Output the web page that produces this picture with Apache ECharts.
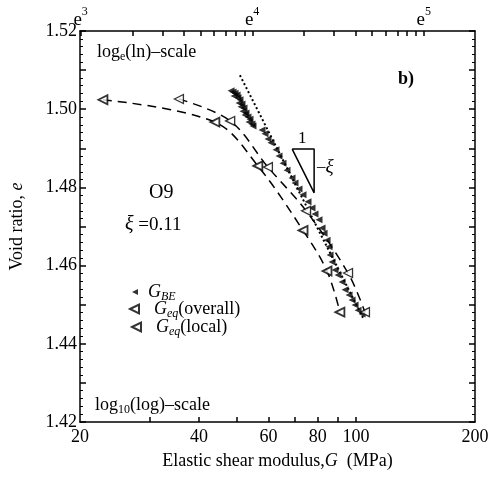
<!DOCTYPE html>
<html><head><meta charset="utf-8">
<script src="https://cdn.jsdelivr.net/npm/echarts@6/dist/echarts.min.js"></script>
<style>html,body{margin:0;padding:0;background:#fff}#c{width:497px;height:480px}</style>
</head><body><div id="c"></div>
<script>
// ---- data (G in MPa, void ratio e) ----
const gBE = [48.24,48.81,49.38,49.96,49.10,50.24,50.83,50.53,51.42,51.12,52.03,51.72,52.64,52.33,53.25,53.88,53.56,54.51,54.83,
  57.78,58.80,59.83,60.89,62.69,63.80,65.30,66.84,68.82,70.03,71.69,73.38,75.55,77.33,78.70,80.55,82.01,82.97,84.44,85.43,85.92,
  86.93,88.46,90.03,92.15,93.78,95.99,97.68,99.41,101.16,103.55];
const eBE = [1.5047,1.5044,1.5041,1.5036,1.5034,1.5029,1.5024,1.5016,1.5013,1.5006,1.5003,1.4995,1.4990,1.4985,1.4980,1.4974,1.4967,1.4962,1.4957,
  1.4947,1.4937,1.4924,1.4914,1.4896,1.4880,1.4862,1.4844,1.4824,1.4811,1.4796,1.4781,1.4763,1.4747,1.4732,1.4717,1.4696,1.4683,1.4665,1.4648,1.4627,
  1.4609,1.4589,1.4576,1.4558,1.4538,1.4525,1.4512,1.4499,1.4486,1.4476];
const gOverall = [22.86, 43.9, 56.4, 73.4, 84.4, 91.0];
const eOverall = [1.5024, 1.4967, 1.4855, 1.4690, 1.4586, 1.4481];
const gLocal = [35.6, 48.0, 59.8, 74.7, 95.4, 105.3];
const eLocal = [1.5026, 1.4970, 1.4852, 1.4740, 1.4581, 1.4481];
const gFit = [50.8, 104.2];
const eFit = [1.5087, 1.4466];
const gSlope = [68.9, 78.3, 78.3, 68.9];
const eSlope = [1.4898, 1.4898, 1.4786, 1.4898];
// ---- axis ticks ----
const xTickValues = [30, 40, 50, 60, 70, 80, 90, 100];
const xLabelValues = [20, 40, 60, 80, 100, 200];
const topExponents = [3, 4, 5];
const topMinorSteps = [2, 3, 4, 5, 6, 7, 8, 9];
const xMin = 20, xMax = 200;
const yMin = 1.42, yMax = 1.52, yStep = 0.01;

const pairs = (a, b) => a.map((v, i) => [v, b[i]]);
const topLabelValues = topExponents.map(n => Math.exp(n));
const topTickValues = [];
topExponents.forEach(n => { topTickValues.push(Math.exp(n)); topMinorSteps.forEach(k => topTickValues.push(Math.exp(n + Math.log10(k)))); });

const F = 'Liberation Serif';
const black = '#000';
const rich = {
  n: {fontFamily: F, fontSize: 18, color: black, lineHeight: 22},
  i: {fontFamily: F, fontSize: 18, fontStyle: 'italic', color: black, lineHeight: 22},
  s: {fontFamily: F, fontSize: 12, fontStyle: 'italic', color: black, lineHeight: 12, verticalAlign: 'bottom'},
  sn: {fontFamily: F, fontSize: 12, color: black, lineHeight: 12, verticalAlign: 'bottom'}
};
const topRich = {
  e: {fontFamily: F, fontSize: 19, color: black, lineHeight: 18, verticalAlign: 'bottom'},
  sup: {fontFamily: F, fontSize: 12, color: black, lineHeight: 12, verticalAlign: 'top'},
  z: {fontSize: 1, lineHeight: 24}
};
const legendNames = {
  'G_BE': '{i|G}{s|BE}',
  'G_eq(overall)': '{i|G}{s|eq}{n|(overall)}',
  'G_eq(local)': '{i|G}{s|eq}{n|(local)}'
};
const leftTriangle = 'path://M0,5L10,0L10,10Z';
const axisLineStyle = {color: black, width: 1.5};

const chart = echarts.init(document.getElementById('c'));
chart.setOption({
  backgroundColor: '#fff',
  animation: false,
  grid: {left: 80, right: 22, top: 31, bottom: 58, outerBoundsMode: 'none'},
  xAxis: [{
    type: 'log', logBase: 10, min: xMin, max: xMax, position: 'bottom',
    name: '{n|Elastic shear modulus,}{i|G}{n|  (MPa)}', nameLocation: 'middle', nameGap: 28,
    nameTextStyle: {rich: rich},
    axisLine: {lineStyle: axisLineStyle},
    axisTick: {inside: true, length: 5, customValues: xTickValues, lineStyle: {color: black, width: 1.5}},
    minorTick: {show: false},
    axisLabel: {customValues: xLabelValues, margin: 6, fontFamily: F, fontSize: 18, color: black, formatter: v => String(Math.round(v))},
    splitLine: {show: false}
  }, {
    type: 'log', logBase: Math.E, min: xMin, max: xMax, position: 'top',
    axisLine: {lineStyle: axisLineStyle},
    axisTick: {inside: true, length: 5, customValues: topTickValues, lineStyle: {color: black, width: 1.5}},
    axisLabel: {customValues: topLabelValues, margin: 1, rich: topRich,
      formatter: v => '{e|e}{sup|' + Math.round(Math.log(v)) + '}{z| }'},
    splitLine: {show: false}
  }],
  yAxis: [{
    type: 'value', min: yMin, max: yMax, interval: yStep, position: 'left',
    name: '{n|Void ratio, }{i|e}', nameLocation: 'middle', nameGap: 52, nameTextStyle: {rich: rich},
    axisLine: {lineStyle: axisLineStyle},
    axisTick: {inside: true, length: 6, lineStyle: {color: black, width: 1.5}},
    minorTick: {show: true, splitNumber: 5, length: 3, lineStyle: {color: black, width: 1}},
    axisLabel: {margin: 3, fontFamily: F, fontSize: 18, color: black,
      formatter: v => (Math.round(v * 100) % 2 === 0 ? v.toFixed(2) : '')},
    splitLine: {show: false}, minorSplitLine: {show: false}
  }, {
    type: 'value', min: yMin, max: yMax, interval: yStep, position: 'right',
    axisLine: {show: true, lineStyle: axisLineStyle},
    axisTick: {show: true, inside: true, length: 6, lineStyle: {color: black, width: 1.5}},
    minorTick: {show: true, splitNumber: 5, length: 3, lineStyle: {color: black, width: 1}},
    axisLabel: {show: false},
    splitLine: {show: false}, minorSplitLine: {show: false}
  }],
  legend: [
    {data: [{name: 'G_BE', icon: leftTriangle}], left: 132, top: 283, padding: 0, itemWidth: 6, itemHeight: 6,
     formatter: n => legendNames[n], textStyle: {rich: rich, padding: [0, 0, 0, 5]}},
    {data: [{name: 'G_eq(overall)', icon: leftTriangle}], left: 129, top: 300, padding: 0, itemWidth: 9, itemHeight: 9,
     formatter: n => legendNames[n], textStyle: {rich: rich, padding: [0, 0, 0, 10]}},
    {data: [{name: 'G_eq(local)', icon: leftTriangle}], left: 131, top: 318, padding: 0, itemWidth: 9, itemHeight: 9,
     formatter: n => legendNames[n], textStyle: {rich: rich, padding: [0, 0, 0, 10]}}
  ],
  graphic: [
    {type: 'text', left: 97, top: 43, style: {text: '{n|log}{sn|e}{n|(ln)–scale}', rich: rich}},
    {type: 'text', left: 95, top: 396, style: {text: '{n|log}{sn|10}{n|(log)–scale}', rich: rich}},
    {type: 'text', left: 398, top: 70, style: {text: 'b)', fontFamily: F, fontSize: 18, fontWeight: 'bold', fill: black}},
    {type: 'text', left: 149, top: 183, style: {text: 'O9', fontFamily: F, fontSize: 20, fill: black}},
    {type: 'text', left: 125, top: 215, style: {text: '{a|ξ}{b| =0.11}', rich: {
      a: {fontFamily: F, fontSize: 20, fontStyle: 'italic', fill: black},
      b: {fontFamily: F, fontSize: 19, fill: black}}}},
    {type: 'text', left: 298, top: 130, style: {text: '1', fontFamily: F, fontSize: 17, fill: black}},
    {type: 'text', left: 317, top: 157, style: {text: '{a|–}{b|ξ}', rich: {
      a: {fontFamily: F, fontSize: 17, fill: black},
      b: {fontFamily: F, fontSize: 19, fontStyle: 'italic', fill: black}}}}
  ],
  series: [
    {name: 'fit', type: 'line', data: pairs(gFit, eFit), showSymbol: false, symbol: 'none',
     lineStyle: {color: black, width: 2, type: [2, 2.5]}, z: 1},
    {name: 'slope', type: 'line', data: pairs(gSlope, eSlope), showSymbol: false, symbol: 'none',
     lineStyle: {color: black, width: 1.5}, z: 1},
    {name: 'overallCurve', type: 'line', data: pairs(gOverall, eOverall), smooth: 0.35, symbol: 'none',
     lineStyle: {color: black, width: 1.5, type: [9, 6]}, z: 1},
    {name: 'localCurve', type: 'line', data: pairs(gLocal, eLocal), smooth: 0.35, symbol: 'none',
     lineStyle: {color: black, width: 1.5, type: [9, 6]}, z: 1},
    {name: 'G_BE', type: 'scatter', data: pairs(gBE, eBE), symbol: 'triangle', symbolRotate: 90, symbolSize: 7,
     itemStyle: {color: black}, z: 3},
    {name: 'G_eq(overall)', type: 'scatter', data: pairs(gOverall, eOverall), symbol: 'triangle', symbolRotate: 90, symbolSize: 9,
     itemStyle: {color: '#fff', borderColor: black, borderWidth: 1.8}, z: 4},
    {name: 'G_eq(local)', type: 'scatter', data: pairs(gLocal, eLocal), symbol: 'triangle', symbolRotate: 90, symbolSize: 9,
     itemStyle: {color: '#fff', borderColor: black, borderWidth: 1.3}, z: 4}
  ]
});
</script></body></html>
